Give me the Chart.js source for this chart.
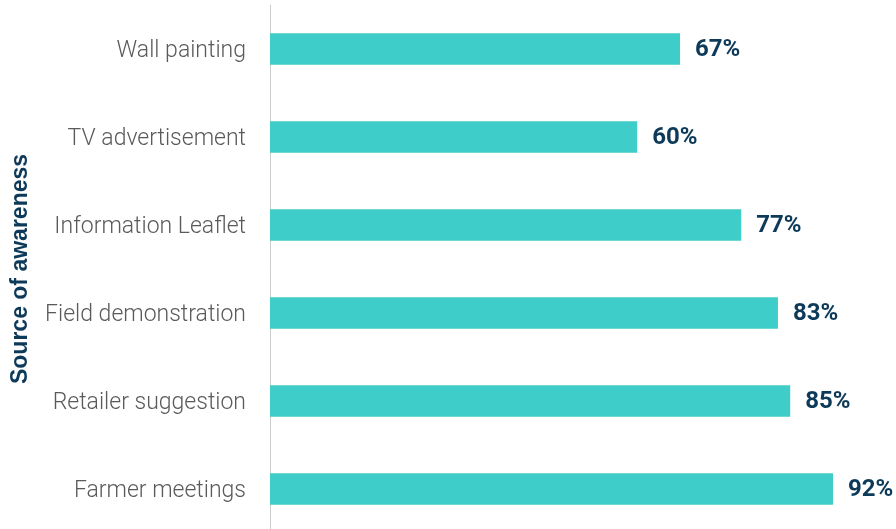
<!DOCTYPE html>
<html>
<head>
<meta charset="utf-8">
<script src="https://cdn.jsdelivr.net/npm/chart.js@4/dist/chart.umd.min.js"></script>
<style>
  html, body { margin: 0; padding: 0; background: #fff; overflow: hidden; }
  #wrap { position: relative; width: 896px; height: 533px; }
</style>
</head>
<body>
<div id="wrap"><canvas id="awareness"></canvas></div>
<script>
const sources = ['Wall painting', 'TV advertisement', 'Information Leaflet', 'Field demonstration', 'Retailer suggestion', 'Farmer meetings'];
const shares = [67, 60, 77, 83, 85, 92];

const navy = '#0e3a5a';

// writes the percentage just past the end of each bar
const valueLabels = {
    id: 'valueLabels',
    afterDatasetsDraw(chart) {
        const ctx = chart.ctx;
        const meta = chart.getDatasetMeta(0);
        ctx.save();
        ctx.font = 'bold 24px Roboto';
        ctx.fillStyle = navy;
        ctx.textAlign = 'left';
        ctx.textBaseline = 'middle';
        meta.data.forEach((bar, i) => {
            ctx.fillText(shares[i] + '%', bar.x + 15, bar.y + 1);
        });
        ctx.restore();
    }
};

const ctx = document.getElementById('awareness').getContext('2d');
const awarenessChart = new Chart(ctx, {
    type: 'bar',
    data: {
        labels: sources,
        datasets: [{
            data: shares,
            backgroundColor: '#3ecdc9',
            borderWidth: 0,
            categoryPercentage: 1,
            barPercentage: 0.36
        }]
    },
    options: {
        indexAxis: 'y',
        responsive: true,
        maintainAspectRatio: false,
        animation: false,
        layout: {
            padding: { top: 5, right: 14, bottom: 0, left: 0 }
        },
        plugins: {
            legend: { display: false },
            tooltip: { enabled: false }
        },
        scales: {
            x: {
                display: false,
                min: 0,
                max: 100
            },
            y: {
                afterFit(scale) {
                    scale.width = 270;
                    // labels sit mid-category, no room needed above or below
                    scale.paddingTop = 0;
                    scale.paddingBottom = 0;
                },
                grid: { display: false, drawTicks: false },
                border: { display: true, color: '#cccccc', width: 1 },
                ticks: {
                    padding: 24,
                    labelOffset: 2,
                    color: '#5a5a5a',
                    font: { family: 'Roboto', size: 23, weight: 300 }
                },
                title: {
                    display: true,
                    text: 'Source of awareness',
                    color: navy,
                    padding: { top: 7, bottom: 0 },
                    font: { family: '"Liberation Sans", Arial, sans-serif', size: 23, weight: 'bold' }
                }
            }
        }
    },
    plugins: [valueLabels]
});
</script>
</body>
</html>
